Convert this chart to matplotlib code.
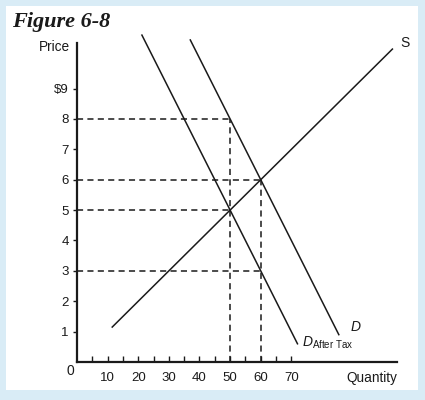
import numpy as np
import matplotlib
matplotlib.use("Agg")
import matplotlib.pyplot as plt
from matplotlib.patches import Rectangle

plt.rcParams['font.family'] = ['Liberation Sans', 'DejaVu Sans']
plt.rcParams['mathtext.fontset'] = 'custom'
plt.rcParams['mathtext.it'] = 'Liberation Sans:italic'
plt.rcParams['mathtext.rm'] = 'Liberation Sans'

# curves: quantity end points and matching prices
supply_q = [11.5, 103]
supply_p = [1.15, 10.3]
demand_q = [37, 85.5]
demand_p = [10.6, 0.9]
after_tax_q = [21.2, 72]
after_tax_p = [10.76, 0.6]

# dashed guide lines (price level, quantity reached)
guide_prices = [8, 6, 5, 3]
guide_qtys = [50, 60, 50, 60]
vert_qtys = [50, 60]
vert_tops = [8, 6]

y_ticks = [1, 2, 3, 4, 5, 6, 7, 8, 9]
y_labels = ['1', '2', '3', '4', '5', '6', '7', '8', '$9']
x_ticks = [10, 20, 30, 40, 50, 60, 70]
x_minor = [5, 15, 25, 35, 45, 55, 65]

ink = '#1a1a1a'

fig = plt.figure(figsize=(4.25, 4.0), dpi=100, facecolor='#d9ecf6')
fig.patches.append(Rectangle((6/425, 1 - 390/400), 412/425, 384/400,
                             transform=fig.transFigure, facecolor='white',
                             edgecolor='none', zorder=-10))

ax = fig.add_axes([77/425, 38/400, 320/425, 319/400])
ax.set_facecolor('none')
ax.set_zorder(5)
ax.set_xlim(0, 104.5)
ax.set_ylim(0, 10.5)

for p, q in zip(guide_prices, guide_qtys):
    ax.plot([0, q], [p, p], color=ink, lw=1.1, ls=(0, (4, 2.8)))
for q, top in zip(vert_qtys, vert_tops):
    ax.plot([q, q], [0, top], color=ink, lw=1.1, ls=(0, (4, 2.8)))

ax.plot(supply_q, supply_p, color=ink, lw=1.1)
ax.plot(demand_q, demand_p, color=ink, lw=1.1, clip_on=False)
ax.plot(after_tax_q, after_tax_p, color=ink, lw=1.1, clip_on=False)

ax.text(105.5, 10.5, 'S', fontsize=10, ha='left', va='center', color=ink)
ax.text(89.3, 1.15, 'D', fontsize=10, style='italic', ha='left', va='center', color=ink)
ax.text(73.5, 0.62, r'$D_{\mathrm{After\ Tax}}$', fontsize=10, ha='left',
        va='center', color=ink)

for s in ['top', 'right']:
    ax.spines[s].set_visible(False)
for s in ['left', 'bottom']:
    ax.spines[s].set_linewidth(1.6)
    ax.spines[s].set_color(ink)

ax.set_yticks(y_ticks)
ax.set_yticklabels(y_labels)
ax.set_xticks(x_ticks)
ax.set_xticks(x_minor, minor=True)
ax.tick_params(axis='y', direction='out', length=3, width=1, labelsize=9.5,
               pad=3, colors=ink)
ax.tick_params(axis='x', which='both', direction='in', length=4, width=1,
               labelsize=9.5, pad=7, colors=ink)

ax.text(-2.3, -0.3, '0', fontsize=10, ha='center', va='center', color=ink,
        transform=ax.transData)
fig.text(70/425, 1 - 47/400, 'Price', fontsize=9.8, ha='right', va='center', color=ink)
fig.text(372/425, 1 - 378/400, 'Quantity', fontsize=9.8, ha='center', va='center', color=ink)
fig.text(12/425, 1 - 22/400, 'Figure 6-8', fontsize=16, family='Liberation Serif',
         weight='bold', style='italic', ha='left', va='center', color=ink)

fig.savefig('out.png', dpi=100, facecolor=fig.get_facecolor())
